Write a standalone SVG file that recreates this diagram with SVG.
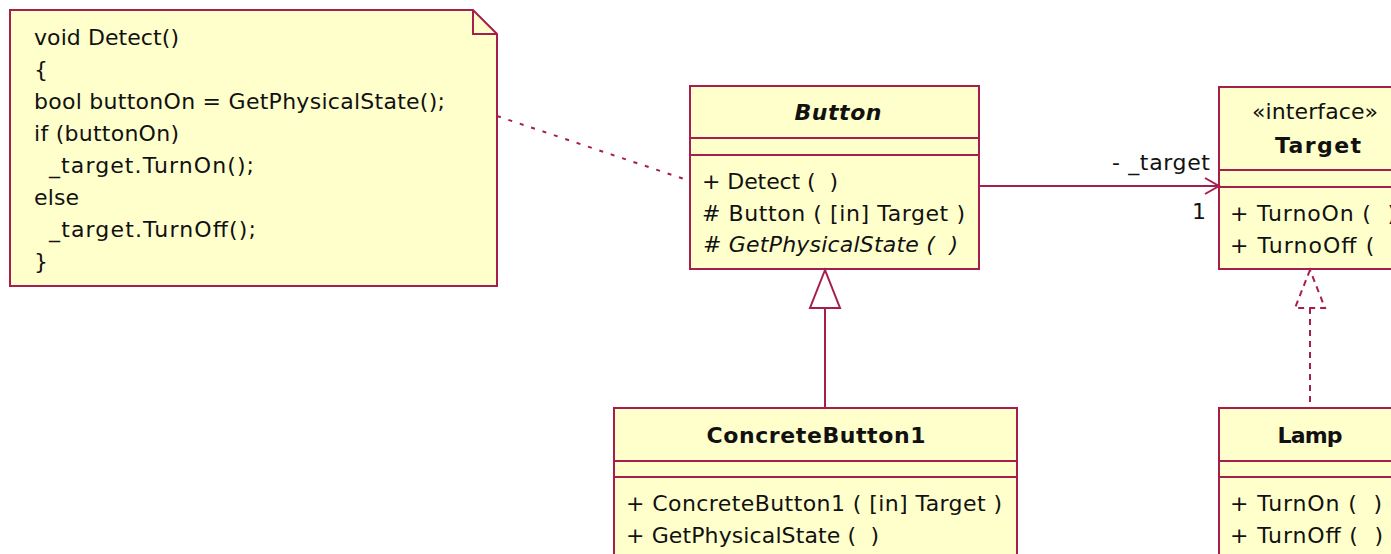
<svg xmlns="http://www.w3.org/2000/svg" width="1391" height="554" viewBox="0 0 1391 554">
<style>
.box{fill:#ffffcc;stroke:#a61e4d;stroke-width:2}
.ln{stroke:#a61e4d;stroke-width:2;fill:none}
.dash{stroke:#a61e4d;stroke-width:2;fill:none;stroke-dasharray:4 8}
.rdash{stroke:#a61e4d;stroke-width:2;stroke-dasharray:6 5}
text{font-family:"DejaVu Sans",Verdana,sans-serif;font-size:22px;fill:#111;white-space:pre}
.t{font-weight:bold;text-anchor:middle}
.c{text-anchor:middle}
</style>
<rect width="1391" height="554" fill="#ffffff"/>
<g id="note">
<polygon class="box" points="10,10 473,10 497,34 497,286 10,286"/>
<polyline class="ln" points="473,10 473,34 497,34"/>
<text x="34" y="45" textLength="145">void Detect()</text>
<text x="34" y="77">{</text>
<text x="34" y="109" textLength="411">bool buttonOn = GetPhysicalState();</text>
<text x="34" y="141" textLength="145">if (buttonOn)</text>
<text x="49" y="173" textLength="205">_target.TurnOn();</text>
<text x="34" y="205" textLength="45">else</text>
<text x="49" y="237" textLength="207">_target.TurnOff();</text>
<text x="34" y="269">}</text>
</g>
<g id="Button">
<rect class="box" x="690" y="86" width="289" height="183"/>
<line class="ln" x1="690" y1="138" x2="979" y2="138"/>
<line class="ln" x1="690" y1="155" x2="979" y2="155"/>
<text class="t" x="838" y="120" font-style="italic" textLength="87">Button</text>
<text x="702" y="189" textLength="136">+ Detect (  )</text>
<text x="702" y="221" textLength="263"># Button ( [in] Target )</text>
<text x="703" y="252" font-style="italic" textLength="255"># GetPhysicalState (  )</text>
</g>
<g id="Target">
<rect class="box" x="1219" y="87" width="196" height="182"/>
<line class="ln" x1="1219" y1="170" x2="1415" y2="170"/>
<line class="ln" x1="1219" y1="187" x2="1415" y2="187"/>
<text class="c" x="1315" y="119" textLength="126">«interface»</text>
<text class="t" x="1318" y="153" textLength="86">Target</text>
<text x="1230" y="221" textLength="166">+ TurnoOn (  )</text>
<text x="1230" y="253" textLength="170">+ TurnoOff (  )</text>
</g>
<g id="ConcreteButton1">
<rect class="box" x="614" y="408" width="403" height="170"/>
<line class="ln" x1="614" y1="461" x2="1017" y2="461"/>
<line class="ln" x1="614" y1="477" x2="1017" y2="477"/>
<text class="t" x="816" y="443" textLength="219">ConcreteButton1</text>
<text x="626" y="511" textLength="376">+ ConcreteButton1 ( [in] Target )</text>
<text x="626" y="543" textLength="253">+ GetPhysicalState (  )</text>
</g>
<g id="Lamp">
<rect class="box" x="1219" y="408" width="182" height="170"/>
<line class="ln" x1="1219" y1="461" x2="1401" y2="461"/>
<line class="ln" x1="1219" y1="477" x2="1401" y2="477"/>
<text class="t" x="1310" y="443" textLength="65">Lamp</text>
<text x="1230" y="511" textLength="152">+ TurnOn (  )</text>
<text x="1230" y="543" textLength="153">+ TurnOff (  )</text>
</g>
<g id="connectors">
<line class="dash" x1="497" y1="116" x2="690" y2="181"/>
<line class="ln" x1="979" y1="186" x2="1219" y2="186"/>
<polyline class="ln" points="1205,178 1219,186 1205,194"/>
<text x="1112" y="170" textLength="98">- _target</text>
<text x="1192" y="219">1</text>
<line class="ln" x1="825" y1="308" x2="825" y2="408"/>
<polygon class="ln" style="fill:#ffffff" points="825,270 810,308 840,308"/>
<line class="rdash" x1="1310" y1="308" x2="1310" y2="408"/>
<polygon class="rdash" style="fill:#ffffff" points="1310,270 1295,308 1325,308"/>
</g>
</svg>
